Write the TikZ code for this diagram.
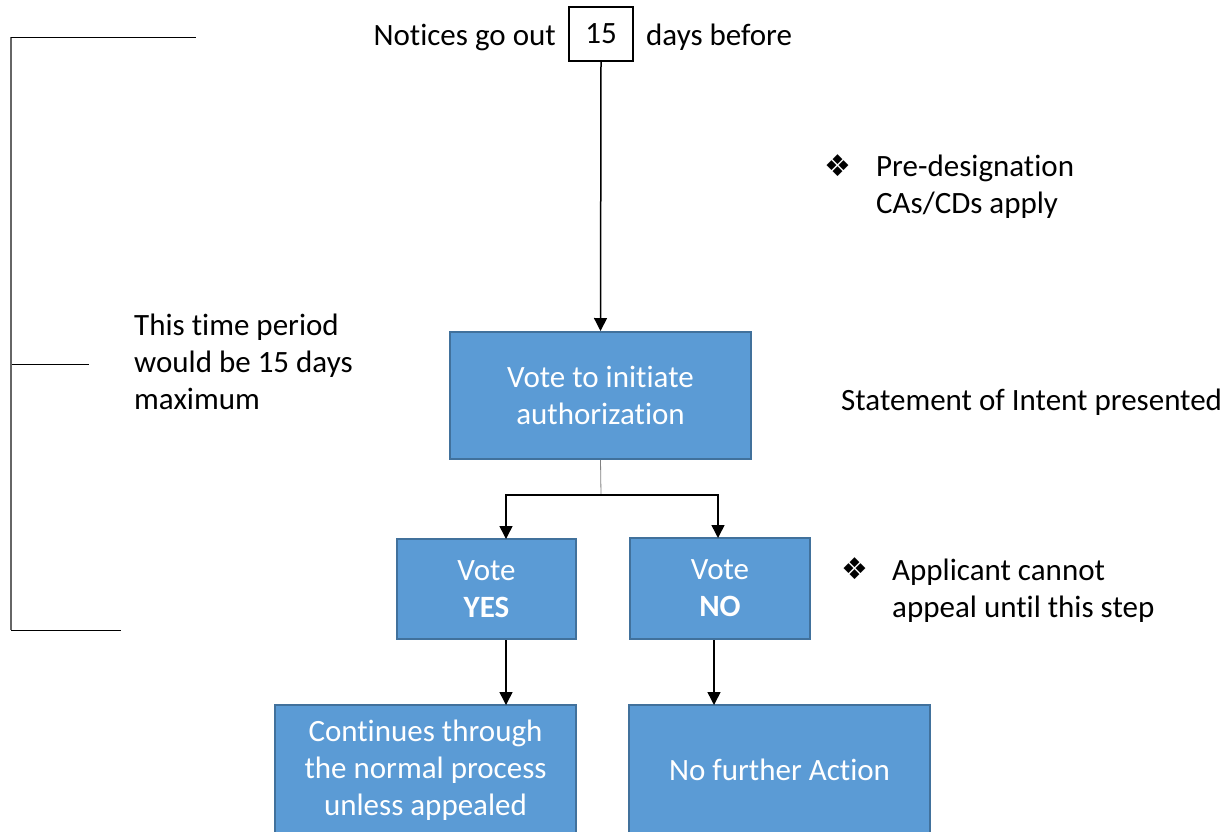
\documentclass[tikz,border=0pt]{standalone}
\usepackage{fontspec}
\setmainfont{Carlito}[RawFeature={-liga;-clig;-calt;-dlig}]
\newfontfamily\symfont{DejaVu Sans}
\usetikzlibrary{arrows.meta}
\definecolor{boxfill}{HTML}{5B9BD5}
\definecolor{boxline}{HTML}{41719C}
\begin{document}
\begin{tikzpicture}[x=1pt,y=-1pt,
  box/.style={draw=boxline, line width=2pt, fill=boxfill, text=white, align=center, inner sep=0pt, font=\fontsize{31}{37}\selectfont},
  lbl/.style={inner sep=0pt, font=\fontsize{31}{37}\selectfont, align=left},
  sym/.style={inner sep=0pt, font=\symfont\fontsize{30}{30}\selectfont},
  arr/.style={draw=black, line width=1.5pt, -{Triangle[width=13pt,length=13pt]}},
  brk/.style={draw=black, line width=1pt}]
\useasboundingbox (0,0) rectangle (1225,831);
\clip (0,0) rectangle (1225,831);
% top
\node[draw, line width=1.5pt, minimum width=64, minimum height=54, inner sep=0pt, font=\fontsize{31}{37}\selectfont] (n15) at (601,34) {15};
\node[lbl, anchor=base east] (notices) at (556,45) {Notices go out};
\node[lbl, anchor=base west] (days) at (646,45) {days before};
% boxes
\node[box, minimum width=301, minimum height=127] (vote) at (600.5,395.5) {Vote to initiate\\authorization};
\node[box, minimum width=179, minimum height=100] (yes) at (486.5,589) {Vote\\\textbf{YES}};
\node[box, minimum width=180, minimum height=101] (no) at (720,588.5) {Vote\\\textbf{NO}};
\node[box, minimum width=301, minimum height=130] (cont) at (425.5,770) {Continues through\\the normal process\\unless appealed};
\node[box, minimum width=301, minimum height=130] (nofa) at (779.5,770) {No further Action};
% connectors
\draw[arr] (n15.south) -- (vote.north);
\coordinate (split) at (601,495);
\coordinate (yesin) at (506,539);
\coordinate (noin) at (718,538);
\draw[gray, line width=0.8pt] (vote.south) -- (split);
\draw[arr] (split) -| (yesin);
\draw[arr] (split) -| (noin);
\coordinate (contin) at (506,705);
\coordinate (nofain) at (714,705);
\draw[arr] (yes.south -| contin) -- (contin);
\draw[arr] (no.south -| nofain) -- (nofain);
% bracket
\coordinate (bt) at (11,37);
\coordinate (bm) at (12,364);
\coordinate (bb) at (11,630);
\draw[gray!80!black, line width=1.2pt] (bt) -- (bb);
\draw[brk] (bt) -- (196,37);
\draw[brk] (bm) -- (89,364);
\draw[brk] (bb) -- (121,630);
% side texts
\node[lbl, anchor=north west] (period) at (134,314) {This time period\\would be 15 days\\maximum};
\node[sym] (b1) at (838,166) {❖};
\node[lbl, anchor=north west] (pre) at (876,155) {Pre-designation\\CAs/CDs apply};
\node[lbl, anchor=north west] (stmt) at (841,389) {Statement of Intent presented};
\node[sym] (b2) at (855,569) {❖};
\node[lbl, anchor=north west] (appl) at (892,559) {Applicant cannot\\appeal until this step};
\end{tikzpicture}
\end{document}
